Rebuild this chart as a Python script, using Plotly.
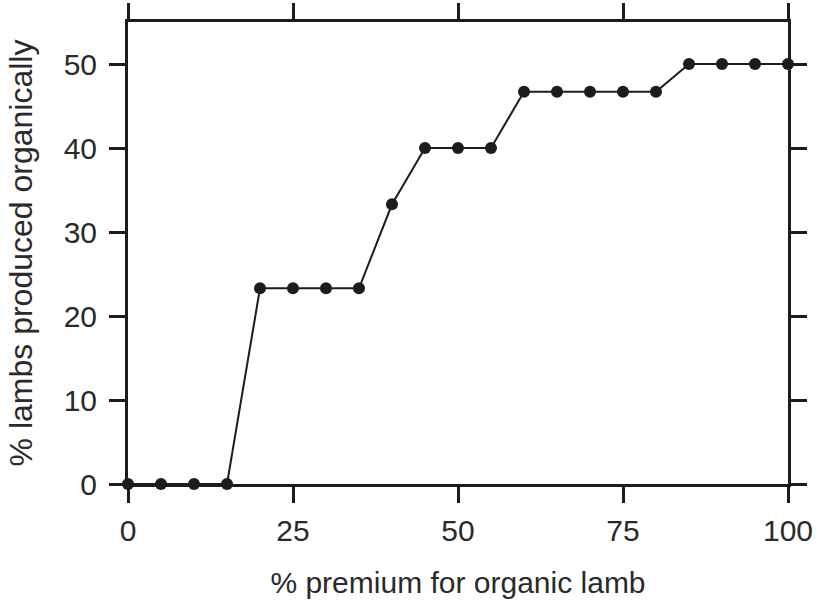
import plotly.graph_objects as go

premium = [0, 5, 10, 15, 20, 25, 30, 35, 40, 45, 50, 55, 60, 65, 70, 75, 80, 85, 90, 95, 100]
lambs_organic = [0, 0, 0, 0, 23.3, 23.3, 23.3, 23.3, 33.3, 40, 40, 40, 46.7, 46.7, 46.7, 46.7, 46.7, 50, 50, 50, 50]
x_ticks = [0, 25, 50, 75, 100]
y_ticks = [0, 10, 20, 30, 40, 50]

ink = "#1c1c1c"
family = "Liberation Sans, Arial, sans-serif"
tick_font = dict(family=family, size=30, color="#2a2a2a")
xtitle_font = dict(family=family, size=30, color="#2a2a2a")
ytitle_font = dict(family=family, size=32, color="#2a2a2a")

fig = go.Figure(go.Scatter(
    x=premium, y=lambs_organic, mode="lines+markers",
    line=dict(color=ink, width=2),
    marker=dict(color=ink, size=12),
    cliponaxis=False, showlegend=False,
))

axis_common = dict(
    showline=True, linecolor=ink, linewidth=3, mirror="ticks",
    ticks="outside", ticklen=16, tickwidth=3, tickcolor=ink,
    showgrid=False, zeroline=False, tickfont=tick_font, automargin=False,
)

fig.update_layout(
    width=818, height=614,
    margin=dict(l=128, r=30, t=22, b=130),
    paper_bgcolor="white", plot_bgcolor="white",
    font=tick_font,
    xaxis=dict(range=[0, 100], tickvals=x_ticks, ticklabelstandoff=2,
               title=dict(text="% premium for organic lamb", font=xtitle_font, standoff=26),
               **axis_common),
    yaxis=dict(range=[0, 55], tickvals=y_ticks, ticklabelstandoff=6,
               title=dict(text="% lambs produced organically", font=ytitle_font, standoff=22),
               **axis_common),
)

fig.write_html("out.html", config={"displayModeBar": False},
               post_script="document.body.style.margin='0';")
